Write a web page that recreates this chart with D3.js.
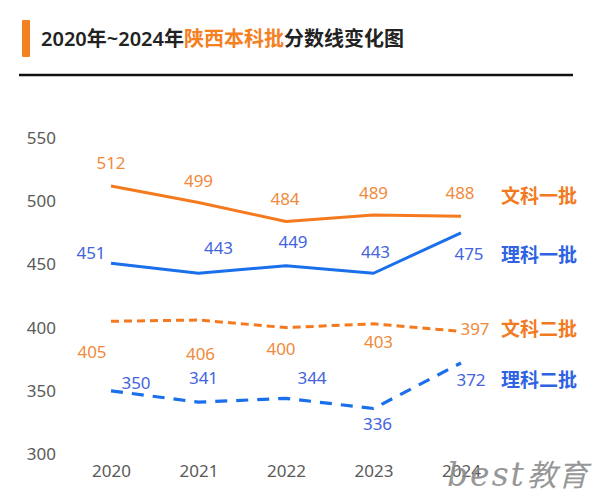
<!DOCTYPE html>
<html><head><meta charset="utf-8">
<script src="https://cdn.jsdelivr.net/npm/d3@7/dist/d3.min.js"></script>
<style>
html,body{margin:0;padding:0;background:#fff;}
svg{display:block;font-family:"Noto Sans","Noto Sans CJK SC",sans-serif;}
</style></head>
<body>
<svg id="chart" width="600" height="498"></svg>
<script>
// ---- data ----
const years = ["2020","2021","2022","2023","2024"];
const seriesNames = ["文科一批","理科一批","文科二批","理科二批"];
const wenke1 = [512,499,484,489,488];
const like1  = [451,443,449,443,475];
const wenke2 = [405,406,400,403,397];
const like2  = [350,341,344,336,372];
const yTicks = [300,350,400,450,500,550];

// ---- layout / style (not data) ----
const ORANGE = "#f57a1f", BLUE = "#1a70ec";
const ORANGE_LBL = "#ef8a3c", BLUE_LBL = "#4464de";
const seriesStyle = [
  {values: wenke1, line: ORANGE, lbl: ORANGE_LBL, legend: "#f27a1f", dash: null, w: 3,
   off: [[0,-23],[0,-22],[-1,-23],[0,-22],[-1,-23]], legendDy: -20},
  {values: like1, line: BLUE, lbl: BLUE_LBL, legend: "#2f63e2", dash: null, w: 3,
   off: [[-20,-10],[20,-25],[7,-24],[2,-21],[8,21]], legendDy: 22},
  {values: wenke2, line: ORANGE, lbl: ORANGE_LBL, legend: "#f27a1f", dash: "8,5", w: 3,
   off: [[-19,31],[2,34],[-5,21],[5,18],[14,-3]], legendDy: -2},
  {values: like2, line: BLUE, lbl: BLUE_LBL, legend: "#2f63e2", dash: "12,9", w: 3.2,
   off: [[25,-8],[5,-24],[26,-21],[4,15],[10,17]], legendDy: 17}
];

const svg = d3.select("#chart");

// title
svg.append("rect").attr("x",22).attr("y",20).attr("width",8).attr("height",37).attr("fill","#f5801f").attr("rx",1);
const title = svg.append("text").attr("x",41).attr("y",39).attr("dy","0.36em")
  .attr("font-size",20).attr("font-weight",600).attr("fill","#222");
title.append("tspan").text("2020年~2024年");
title.append("tspan").attr("fill","#f5801f").text("陕西本科批");
title.append("tspan").text("分数线变化图");
svg.append("line").attr("x1",19).attr("x2",573).attr("y1",75).attr("y2",75)
  .attr("stroke","#111").attr("stroke-width",2.5);

// scales
const x = d3.scalePoint().domain(years).range([111,461]);
const y = d3.scaleLinear().domain([300,550]).range([454,138]);

// y axis
const gy = svg.append("g").attr("transform","translate(56,0)")
  .call(d3.axisLeft(y).tickValues(yTicks).tickSize(0).tickPadding(0).tickFormat(d3.format("d")));
gy.select(".domain").remove();
gy.selectAll("text").attr("font-size",17).attr("fill","#5a5a5a")
  .attr("font-family","'Noto Sans','Noto Sans CJK SC',sans-serif");

// x axis
const gx = svg.append("g").attr("transform","translate(0,465)")
  .call(d3.axisBottom(x).tickSize(0).tickPadding(0));
gx.select(".domain").remove();
gx.selectAll("text").attr("font-size",17).attr("fill","#5a5a5a")
  .attr("font-family","'Noto Sans','Noto Sans CJK SC',sans-serif");

// watermark
const wm = svg.append("text").attr("x",447).attr("y",486).attr("fill","#8c8c8c").attr("opacity",0.9)
  .attr("font-style","italic");
wm.append("tspan").attr("font-family","'DejaVu Serif',serif").attr("font-size",33).attr("letter-spacing",2).text("best");
wm.append("tspan").attr("font-family","'Noto Sans CJK SC',sans-serif").attr("font-size",30).attr("dx",1).attr("letter-spacing",1).text("教育");

// lines
const line = d3.line().x((d,i)=>x(years[i])).y(d=>y(d));
seriesStyle.forEach((s,si)=>{
  svg.append("path").datum(s.values).attr("d",line).attr("fill","none")
    .attr("stroke",s.line).attr("stroke-width",s.w)
    .attr("stroke-dasharray",s.dash).attr("stroke-linejoin","round");
  svg.append("g").selectAll("text").data(s.values).join("text")
    .attr("x",(d,i)=>x(years[i])+s.off[i][0])
    .attr("y",(d,i)=>y(d)+s.off[i][1])
    .attr("dy","0.36em").attr("text-anchor","middle")
    .attr("font-size",17).attr("fill",s.lbl).text(d=>d);
  const last = s.values[s.values.length-1];
  svg.append("text").attr("x",x(years[years.length-1])+40).attr("y",y(last)+s.legendDy)
    .attr("dy","0.36em").attr("font-size",19).attr("font-weight",700)
    .attr("font-family","'Noto Sans CJK SC',sans-serif")
    .attr("fill",s.legend).text(seriesNames[si]);
});
</script>
</body></html>
